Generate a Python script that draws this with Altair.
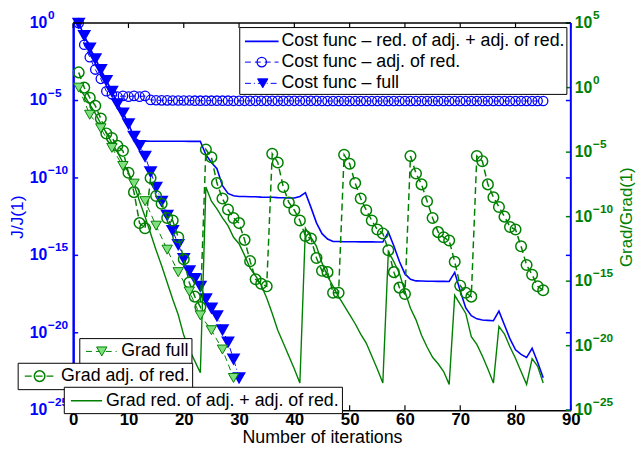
import altair as alt
import pandas as pd

FONT = "Liberation Sans"
BLUE = "#0000ff"
GREEN = "#008000"
LGREEN = "#80e080"

# ---------------- data (log10 of the plotted ratios) ----------------
iters = list(range(1, 86))
iters_full = list(range(1, 31))
iters_grad_full = list(range(1, 30, 2))

cost_full_exp = [0, -0.8, -1.6, -2.3, -3.0, -3.7, -4.4, -5.2, -5.8, -6.5,
                 -7.3, -7.9, -8.6, -9.6, -10.6, -11.5, -12.4, -13.4, -14.3, -15.2,
                 -16.0, -16.5, -17.0, -17.8, -18.4, -18.9, -19.8, -20.6, -21.7, -22.9]

cost_adj_red_exp = [0, -1.4, -2.2, -3.0, -3.6, -4.4, -4.6, -4.75, -4.7, -4.75, -4.7, -4.75, -4.7,
                    -4.96, -4.98, -4.99, -4.99, -5.0, -5.0, -5.0, -5.0, -5.01, -5.01,
                    -5.01, -5.01, -5.01, -5.01, -5.01, -5.02, -5.02, -5.02, -5.02, -5.02,
                    -5.02, -5.02, -5.02, -5.02, -5.02, -5.02, -5.02, -5.02, -5.02, -5.02,
                    -5.02, -5.03, -5.03, -5.03, -5.03, -5.03, -5.03, -5.03, -5.03, -5.03,
                    -5.03, -5.03, -5.03, -5.03, -5.03, -5.03, -5.03, -5.03, -5.03, -5.03,
                    -5.03, -5.03, -5.03, -5.03, -5.03, -5.03, -5.03, -5.03, -5.03, -5.03,
                    -5.03, -5.03, -5.03, -5.03, -5.03, -5.03, -5.03, -5.03, -5.03, -5.03, -5.03, -5.03]

cost_red_adj_exp = [0, -0.8, -1.6, -2.3, -3.0, -3.7, -4.4, -5.2, -5.8, -6.5, -7.4,
                    -7.62, -7.62, -7.63, -7.63, -7.63, -7.63, -7.63, -7.63, -7.63, -7.64, -7.64, -7.64,
                    -8.5, -9.0, -9.4, -10.5, -11.0, -11.15,
                    -11.2, -11.2, -11.22, -11.22, -11.24, -11.25, -11.25, -11.27, -11.28, -11.3, -11.3,
                    -11.2, -10.95, -11.9, -12.9, -13.6, -13.95, -14.1,
                    -14.1, -14.12, -14.12, -14.12, -14.13, -14.13, -14.13, -14.14, -14.14,
                    -13.5, -14.4, -15.4, -16.2, -16.55,
                    -16.65, -16.66, -16.67, -16.67, -16.68, -16.68, -16.69,
                    -16.1, -17.3, -18.4, -18.9, -19.1,
                    -19.18, -19.2, -19.22,
                    -18.6, -19.5, -20.4, -21.1, -21.4, -21.6, -21.0, -21.9, -22.9]

grad_full_exp = [0, -2.1, -3.15, -4.67, -6.07, -7.44, -8.8, -10.7, -12.56, -14.3,
                 -15.8, -17.65, -18.8, -20.3, -22.5]

grad_adj_red_exp = [1.18, 0.0, -0.78, -1.4, -2.4, -3.55, -3.9, -4.5, -4.9, -6.6, -8.1, -10.5,
                    -10.9, -7.0, -8.4, -9.0, -10.1, -10.3, -11.6, -13.3, -15.1, -16.2, -17.0,
                    -4.8, -5.4, -7.4, -8.6, -9.45, -10.1, -10.5, -11.8, -13.45, -14.85, -15.2, -15.4,
                    -5.13, -5.8, -7.7, -8.9, -9.5, -10.3, -11.5, -11.7, -13.2, -14.2, -14.3, -15.9, -15.9,
                    -5.2, -5.9, -7.4, -8.6, -9.5, -10.3, -11.0, -11.3, -12.6, -14.3, -15.5, -16.0,
                    -5.3, -6.65, -7.5, -8.8, -10.1, -11.2, -11.6, -11.85, -13.5, -15.35, -15.9, -16.2,
                    -5.3, -5.7, -7.5, -8.5, -9.25, -10.0, -10.8, -11.0, -12.3, -13.75, -14.5, -15.4, -15.7]

grad_red_adj_exp = [0, -0.6, -1.3, -2.0, -2.8, -3.5, -4.3, -5.0, -5.8, -6.6, -7.5, -8.8,
                    -10.0, -11.3, -12.6, -13.8, -15.1, -16.4, -17.6, -19.2, -20.3, -21.2, -22.1,
                    -7.7, -8.8, -9.4, -10.1, -10.7, -11.6, -12.1, -13.0, -14.0, -14.6, -15.3,
                    -16.3, -17.5, -18.8, -19.8, -20.8, -21.8, -22.9,
                    -10.9, -11.6, -12.3, -13.6, -14.6, -15.4, -16.2, -16.9, -17.6, -18.3,
                    -19.1, -19.8, -20.8, -21.8, -22.9,
                    -12.7, -13.5, -14.4, -15.8, -17.1, -18.0, -19.2, -20.1, -20.9, -21.4, -22.0, -23.0,
                    -16.1, -16.8, -17.5, -19.3, -19.9, -20.8, -21.8, -22.9,
                    -18.5, -19.1, -20.1, -21.0, -22.0, -23.0,
                    -21.0, -21.6, -22.9]

x_ticks = [0, 10, 20, 30, 40, 50, 60, 70, 80, 90]
left_tick_exps = [0, -5, -10, -15, -20, -25]
right_tick_exps = [5, 0, -5, -10, -15, -20, -25]

cost_labels = ["Cost func \u2013 red. of adj. + adj. of red.",
               "Cost func \u2013 adj. of red.",
               "Cost func \u2013 full"]
grad_labels = ["Grad full", "Grad adj. of red.", "Grad red. of adj. + adj. of red."]
x_title = "Number of iterations"
left_title = "J/J(1)"
right_title = "Grad/Grad(1)"

# ---------------- tables ----------------
def frame(xs, exps):
    return pd.DataFrame({"it": xs, "val": [10.0 ** e for e in exps]})

def tick_frame(exps):
    return pd.DataFrame({
        "val": [10.0 ** e for e in exps],
        "base": ["10"] * len(exps),
        "sup": [("\u2212" + str(-e)) if e < 0 else str(e) for e in exps],
    })

df_full = frame(iters_full, cost_full_exp)
df_adj_red = frame(iters, cost_adj_red_exp)
df_red_adj = frame(iters, cost_red_adj_exp)
df_gfull = frame(iters_grad_full, grad_full_exp)
df_gadj_red = frame(iters, grad_adj_red_exp)
df_gred_adj = frame(iters, grad_red_adj_exp)
df_lt = tick_frame(left_tick_exps)
df_rt = tick_frame(right_tick_exps)
df_xt = pd.DataFrame({"it": x_ticks})
one = pd.DataFrame({"k": [0]})

W, H = 504, 392

# ---------------- scales / axes ----------------
x_axis = alt.Axis(values=x_ticks, ticks=False, tickSize=0, labelPadding=1, labelFont=FONT,
                  labelFontSize=17, labelFontWeight="bold", labelColor="black", labelFlush=False,
                  labelOverlap=False,
                  domainColor="black", domainWidth=1.5, grid=False,
                  title=x_title, titleFont=FONT, titleFontSize=18, titleFontWeight="normal",
                  titleColor="black", titleX=W / 2, titleY=33, titleAlign="center",
                  titleBaseline="alphabetic")
X = alt.X("it:Q", scale=alt.Scale(domain=[0, 90], nice=False, zero=False), axis=x_axis)

left_axis = alt.Axis(orient="left", labels=False, ticks=False, tickSize=0, grid=False,
                     domainColor=BLUE, domainWidth=2.5,
                     title=left_title, titleFont=FONT, titleFontSize=17.5, titleFontWeight="normal",
                     titleColor=BLUE, titleAngle=270, titleX=-56, titleY=H / 2,
                     titleAlign="center", titleBaseline="middle")
YL = alt.Y("val:Q", scale=alt.Scale(type="log", domain=[1e-25, 1], nice=False), axis=left_axis)

right_axis = alt.Axis(orient="right", labels=False, ticks=False, tickSize=0, grid=False,
                      domain=False,
                      title=right_title, titleFont=FONT, titleFontSize=17, titleFontWeight="normal",
                      titleColor=GREEN, titleAngle=270, titleX=56, titleY=H / 2,
                      titleAlign="center", titleBaseline="middle")
YR = alt.Y("val:Q", scale=alt.Scale(type="log", domain=[1e-25, 1e5], nice=False), axis=right_axis)

# ---------------- left (cost) layers ----------------
a_red_adj = alt.Chart(df_red_adj).mark_line(color=BLUE, strokeWidth=1.6).encode(x=X, y=YL)
a_adj_red_l = alt.Chart(df_adj_red).mark_line(color=BLUE, strokeWidth=1, strokeDash=[6, 4]).encode(x=X, y=YL)
a_adj_red_p = alt.Chart(df_adj_red).mark_point(shape="circle", filled=False, color=BLUE, size=90,
                                               strokeWidth=1.3, opacity=1).encode(x=X, y=YL)
a_full_l = alt.Chart(df_full).mark_line(color=BLUE, strokeWidth=1, strokeDash=[6, 3, 1, 3]).encode(x=X, y=YL)
a_full_p = alt.Chart(df_full).mark_point(shape="triangle-down", filled=True, fill=BLUE, stroke=BLUE,
                                         size=110, opacity=1).encode(x=X, y=YL)
a_lab = alt.Chart(df_lt).mark_text(align="left", baseline="middle", font=FONT, fontSize=16,
                                   fontWeight="bold", color=BLUE).encode(x=alt.value(-44), y=YL, text="base:N")
a_sup = alt.Chart(df_lt).mark_text(align="left", baseline="middle", font=FONT, fontSize=12,
                                   fontWeight="bold", color=BLUE, dy=-8).encode(x=alt.value(-25.5), y=YL, text="sup:N")
a_tick_l = alt.Chart(df_lt).mark_rule(color=BLUE, strokeWidth=1.5).encode(x=alt.value(0), x2=alt.value(5), y=YL)
a_tick_r = alt.Chart(df_lt).mark_rule(color=BLUE, strokeWidth=1.5).encode(x=alt.value(W - 5), x2=alt.value(W), y=YL)
a_xt_b = alt.Chart(df_xt).mark_rule(color="black", strokeWidth=1.2).encode(x=X, y=alt.value(H), y2=alt.value(H - 5))
a_xt_t = alt.Chart(df_xt).mark_rule(color="black", strokeWidth=1.2).encode(x=X, y=alt.value(0), y2=alt.value(5))

A = alt.layer(a_red_adj, a_adj_red_l, a_adj_red_p, a_full_l, a_full_p,
              a_lab, a_sup, a_tick_l, a_tick_r, a_xt_b, a_xt_t)

# ---------------- right (gradient) layers ----------------
b_red_adj = alt.Chart(df_gred_adj).mark_line(color=GREEN, strokeWidth=1.4).encode(x=X, y=YR)
b_adj_red_l = alt.Chart(df_gadj_red).mark_line(color=GREEN, strokeWidth=1.5, strokeDash=[7, 4]).encode(x=X, y=YR)
b_adj_red_p = alt.Chart(df_gadj_red).mark_point(shape="circle", filled=False, color=GREEN, size=115,
                                                strokeWidth=1.5, opacity=1).encode(x=X, y=YR)
b_full_l = alt.Chart(df_gfull).mark_line(color=GREEN, strokeWidth=1, strokeDash=[6, 4]).encode(x=X, y=YR)
b_full_p = alt.Chart(df_gfull).mark_point(shape="triangle-down", filled=True, fill=LGREEN, stroke=GREEN,
                                          strokeWidth=1, size=110, opacity=1).encode(x=X, y=YR)
b_lab = alt.Chart(df_rt).mark_text(align="left", baseline="middle", font=FONT, fontSize=16,
                                   fontWeight="bold", color=GREEN).encode(x=alt.value(W + 4), y=YR, text="base:N")
b_sup = alt.Chart(df_rt).mark_text(align="left", baseline="middle", font=FONT, fontSize=12,
                                   fontWeight="bold", color=GREEN, dy=-8).encode(x=alt.value(W + 22.5), y=YR, text="sup:N")
b_tick = alt.Chart(df_rt).mark_rule(color=GREEN, strokeWidth=1.5).encode(x=alt.value(W - 5), x2=alt.value(W), y=YR)

B = alt.layer(b_red_adj, b_adj_red_l, b_adj_red_p, b_full_l, b_full_p, b_lab, b_sup, b_tick)

# ---------------- frame and legends ----------------
def rect(x1, x2, y1, y2):
    return alt.Chart(one).mark_rect(fill="white", stroke="black", strokeWidth=1).encode(
        x=alt.value(x1), x2=alt.value(x2), y=alt.value(y1), y2=alt.value(y2))

def hline(x1, x2, y, color, width, dash=None):
    kw = dict(color=color, strokeWidth=width)
    if dash:
        kw["strokeDash"] = dash
    return alt.Chart(one).mark_rule(**kw).encode(x=alt.value(x1), x2=alt.value(x2), y=alt.value(y))

def sym(x, y, shape, size, stroke, fill=None, width=1.2):
    if fill:
        m = alt.Chart(one).mark_point(shape=shape, filled=True, fill=fill, stroke=stroke,
                                      strokeWidth=width, size=size, opacity=1)
    else:
        m = alt.Chart(one).mark_point(shape=shape, filled=False, color=stroke,
                                      strokeWidth=width, size=size, opacity=1)
    return m.encode(x=alt.value(x), y=alt.value(y))

def label(x, y, text):
    return alt.Chart(pd.DataFrame({"t": [text]})).mark_text(
        align="left", baseline="middle", font=FONT, fontSize=18, color="black").encode(
        x=alt.value(x), y=alt.value(y), text="t:N")

top_border = alt.Chart(one).mark_rule(color="black", strokeWidth=1.5).encode(
    x=alt.value(0), x2=alt.value(W), y=alt.value(0))
right_border = alt.Chart(one).mark_rule(color=BLUE, strokeWidth=2).encode(
    x=alt.value(W), y=alt.value(0), y2=alt.value(H))

deco = [top_border, right_border,
        # upper-right legend (cost)
        rect(168.7, 500, 4.5, 72.2),
        hline(174, 208, 18.5, BLUE, 1.6),
        label(211, 18.5, cost_labels[0]),
        hline(174, 208, 39.5, BLUE, 1, [6, 4]),
        sym(191, 39.5, "circle", 90, BLUE, None, 1.3),
        label(211, 39.5, cost_labels[1]),
        hline(174, 208, 61, BLUE, 1, [6, 3, 1, 3]),
        sym(192, 61, "triangle-down", 110, BLUE, BLUE, 1),
        label(211, 61, cost_labels[2]),
        # lower-left legends (gradient)
        rect(6.7, 120.3, 319.5, 345.5),
        hline(13, 44, 332.5, GREEN, 1, [6, 4]),
        sym(29, 332.5, "triangle-down", 110, GREEN, LGREEN, 1),
        label(48.7, 332.5, grad_labels[0]),
        rect(-55.7, 121, 344.5, 371.2),
        hline(-49, -16, 357.5, GREEN, 1.5, [7, 4]),
        sym(-34, 357.5, "circle", 115, GREEN, None, 1.5),
        label(-12.3, 357.5, grad_labels[1]),
        rect(-9, 272.7, 368.8, 395.5),
        hline(-2.3, 29.3, 382.5, GREEN, 1.4),
        label(33.3, 382.5, grad_labels[2]),
        ]

chart = alt.layer(A, B, *deco).resolve_scale(y="independent").properties(
    width=W, height=H,
    padding={"left": 66, "top": 12.5, "right": 66, "bottom": 36},
    autosize=alt.AutoSizeParams(type="none"),
    background="white",
).configure_view(strokeWidth=0)

chart.save("out.html", embed_options={"renderer": "svg", "actions": False})
